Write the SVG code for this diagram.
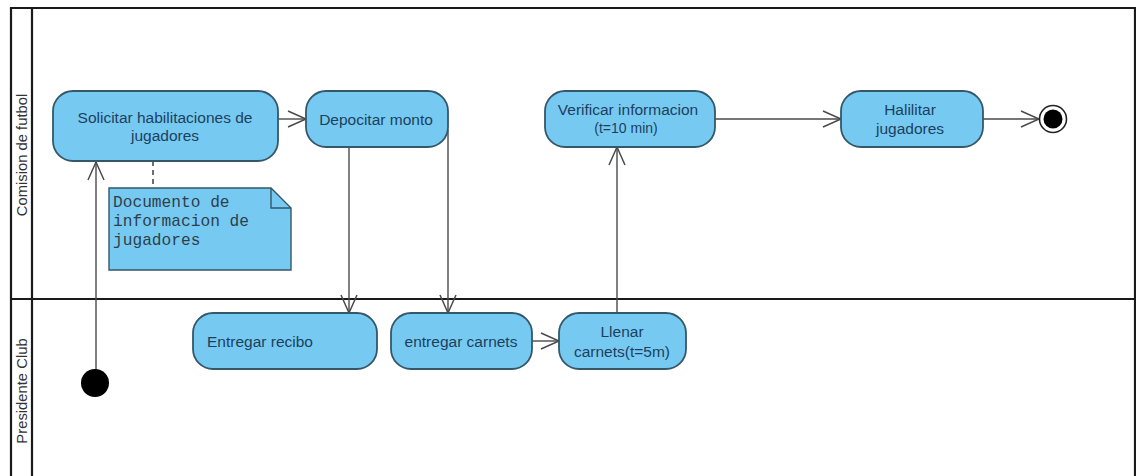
<svg xmlns="http://www.w3.org/2000/svg" width="1136" height="476" viewBox="0 0 1136 476">
  <style>
    .frame { fill: none; stroke: #1a1a1a; stroke-width: 2.2; }
    .action rect { fill: #76caf1; stroke: #34586a; stroke-width: 1.8; }
    .label { font-family: "Liberation Sans", Arial, sans-serif; font-size: 15.5px; fill: #1d3f5e; text-anchor: middle; }
    .lane { font-family: "Liberation Sans", Arial, sans-serif; font-size: 14.8px; fill: #333; text-anchor: middle; }
    .flow { fill: none; stroke: #4a4a4a; stroke-width: 1.4; }
    .note { fill: #76caf1; stroke: #34586a; stroke-width: 1.4; }
    .notetext { font-family: "Liberation Mono", "Courier New", monospace; font-size: 16.2px; fill: #2e3e4a; }
  </style>
  <defs>
    <marker id="open" viewBox="0 0 22 22" refX="20" refY="11" markerWidth="22" markerHeight="22" markerUnits="userSpaceOnUse" orient="auto">
      <path d="M2,3 L20,11 L2,19" fill="none" stroke="#4a4a4a" stroke-width="1.5"/>
    </marker>
  </defs>
  <rect width="1136" height="476" fill="#ffffff"/>

  <!-- swimlane frame -->
  <g id="lanes">
    <path class="frame" d="M11,480 V8 H1135 V480"/>
    <line class="frame" x1="32" y1="8" x2="32" y2="480"/>
    <line class="frame" x1="11" y1="299" x2="1135" y2="299"/>
    <text class="lane" transform="translate(27,155) rotate(-90)">Comision de futbol</text>
    <text class="lane" transform="translate(27,391) rotate(-90)">Presidente Club</text>
  </g>

  <!-- control flows -->
  <g id="connectors">
    <line class="flow" x1="96" y1="371" x2="96" y2="162" marker-end="url(#open)"/>
    <line class="flow" x1="278" y1="119" x2="306" y2="119" marker-end="url(#open)"/>
    <line class="flow" x1="349" y1="147" x2="349" y2="313" marker-end="url(#open)"/>
    <polyline class="flow" points="445,128 448,130 448,313" marker-end="url(#open)"/>
    <line class="flow" x1="532" y1="341" x2="559" y2="341" marker-end="url(#open)"/>
    <line class="flow" x1="617" y1="313" x2="617" y2="147" marker-end="url(#open)"/>
    <line class="flow" x1="715" y1="119" x2="841" y2="119" marker-end="url(#open)"/>
    <line class="flow" x1="983" y1="119" x2="1039" y2="119" marker-end="url(#open)"/>
    <line x1="153" y1="161" x2="153" y2="188" stroke="#4a4a4a" stroke-width="1.6" stroke-dasharray="5,4"/>
  </g>

  <g id="start">
    <circle cx="95" cy="383" r="14" fill="#000"/>
  </g>

  <g id="solicitar" class="action">
    <rect x="53" y="91" width="225" height="70" rx="20"/>
    <text class="label" x="165" y="122.5">Solicitar habilitaciones de</text>
    <text class="label" x="165" y="140.5">jugadores</text>
  </g>

  <g id="depocitar" class="action">
    <rect x="306" y="91" width="142" height="56" rx="20"/>
    <text class="label" x="376" y="124.5">Depocitar monto</text>
  </g>

  <g id="verificar" class="action">
    <rect x="545" y="91" width="170" height="56" rx="20"/>
    <text class="label" x="628" y="114.5">Verificar informacion</text>
    <text class="label" x="626" y="133" style="font-size:14px">(t=10 min)</text>
  </g>

  <g id="habilitar" class="action">
    <rect x="841" y="91" width="142" height="56" rx="20"/>
    <text class="label" x="910" y="114.5">Halilitar</text>
    <text class="label" x="910" y="133.5">jugadores</text>
  </g>

  <g id="end">
    <circle cx="1053" cy="119" r="13.5" fill="#fff" stroke="#222" stroke-width="1.6"/>
    <circle cx="1053" cy="119" r="9.5" fill="#000"/>
  </g>

  <g id="nota">
    <path class="note" d="M109,188 H271 L291,208 V270 H109 Z"/>
    <path d="M271,188 V208 H291" fill="none" stroke="#34586a" stroke-width="1.4"/>
    <text class="notetext" x="113" y="207">Documento de</text>
    <text class="notetext" x="113" y="226">informacion de</text>
    <text class="notetext" x="113" y="245">jugadores</text>
  </g>

  <g id="recibo" class="action">
    <rect x="193" y="313" width="184" height="56" rx="20"/>
    <text class="label" x="207" y="346.5" style="text-anchor:start">Entregar recibo</text>
  </g>

  <g id="carnets" class="action">
    <rect x="391" y="313" width="141" height="56" rx="20"/>
    <text class="label" x="461" y="346.5">entregar carnets</text>
  </g>

  <g id="llenar" class="action">
    <rect x="559" y="313" width="127" height="56" rx="20"/>
    <text class="label" x="622" y="336.5">Llenar</text>
    <text class="label" x="622" y="356.5">carnets(t=5m)</text>
  </g>
</svg>
